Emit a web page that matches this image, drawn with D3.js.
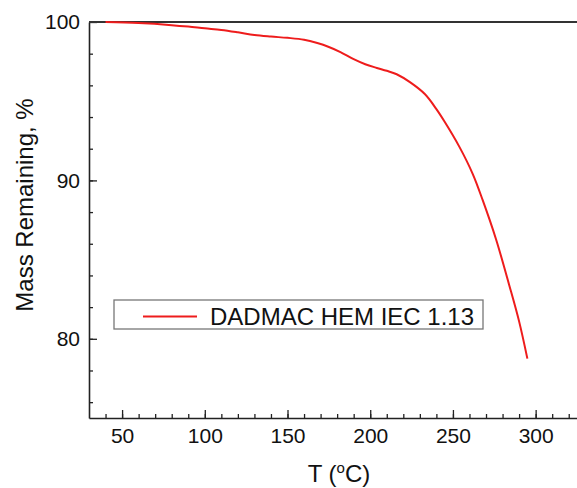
<!DOCTYPE html>
<meta charset="utf-8">
<body style="margin:0;background:#fff">
<script src="https://d3js.org/d3.v7.min.js"></script>
<script>
// temperature (C) and mass remaining (%)
var temps = [40, 60, 80, 90, 100, 110, 120, 130, 140, 150, 160, 168, 175, 182, 190,
             197, 204, 210, 216, 224, 233, 240, 245, 254, 262, 268, 276, 284, 290, 295];
var mass = [100.0, 99.93, 99.8, 99.71, 99.6, 99.5, 99.35, 99.18, 99.08, 99.0, 98.88, 98.67, 98.42, 98.1, 97.65,
            97.33, 97.1, 96.92, 96.7, 96.2, 95.45, 94.5, 93.7, 92.1, 90.4, 88.75, 86.3, 83.4, 81.1, 78.75];
var seriesName = "DADMAC HEM IEC 1.13";
var xTicks = [50, 100, 150, 200, 250, 300];
var yTicks = [80, 90, 100];

var width = 577,
    height = 488,
    plotLeft = 89, plotTop = 22, plotBottom = 418;

var font = "'Liberation Sans', Arial, sans-serif";

var svg = d3.select("body").append("svg")
    .attr("width", width)
    .attr("height", height)
    .style("font-family", font);

var x = d3.scaleLinear().domain([30, 325]).range([plotLeft, width]);
var y = d3.scaleLinear().domain([75, 100]).range([plotBottom, plotTop]);

// minor ticks first
svg.append("g")
    .attr("transform", "translate(0," + plotBottom + ")")
    .call(d3.axisBottom(x).tickValues(d3.range(40, 330, 10)).tickSize(-4).tickFormat(""))
    .call(g => g.select(".domain").remove())
    .call(g => g.selectAll("line").attr("stroke", "#222").attr("stroke-width", 1.3));

svg.append("g")
    .attr("transform", "translate(" + plotLeft + ",0)")
    .call(d3.axisLeft(y).tickValues(d3.range(76, 100, 2)).tickSize(-4).tickFormat(""))
    .call(g => g.select(".domain").remove())
    .call(g => g.selectAll("line").attr("stroke", "#222").attr("stroke-width", 1.3));

// major ticks + labels
var xAxis = svg.append("g")
    .attr("transform", "translate(0," + plotBottom + ")")
    .call(d3.axisBottom(x).tickValues(xTicks).tickSize(-8).tickSizeOuter(0).tickPadding(10));

var yAxis = svg.append("g")
    .attr("transform", "translate(" + plotLeft + ",0)")
    .call(d3.axisLeft(y).tickValues(yTicks).tickSize(-8).tickSizeOuter(0).tickPadding(9));

[xAxis, yAxis].forEach(function(a) {
  a.select(".domain").attr("stroke", "#222").attr("stroke-width", 1.6);
  a.selectAll("line").attr("stroke", "#222").attr("stroke-width", 1.3);
  a.selectAll("text").attr("font-family", font).attr("font-size", 21).attr("fill", "#111");
});

// top frame line
svg.append("line")
    .attr("x1", plotLeft).attr("x2", width)
    .attr("y1", y(100)).attr("y2", y(100))
    .attr("stroke", "#333")
    .attr("stroke-width", 2);

// curve
var data = temps.map(function(t, i) { return [t, mass[i]]; });
var line = d3.line()
    .x(function(d) { return x(d[0]); })
    .y(function(d) { return y(d[1]); })
    .curve(d3.curveCatmullRom.alpha(0.5));

svg.append("path")
    .datum(data)
    .attr("fill", "none")
    .attr("stroke", "#ee1c1c")
    .attr("stroke-width", 2)
    .attr("d", line);

// legend
var legend = svg.append("g");
legend.append("rect")
    .attr("x", 114).attr("y", 300)
    .attr("width", 369).attr("height", 29)
    .attr("fill", "#fff")
    .attr("stroke", "#777")
    .attr("stroke-width", 1.3);
legend.append("line")
    .attr("x1", 143).attr("x2", 197)
    .attr("y1", 316.5).attr("y2", 316.5)
    .attr("stroke", "#ee1c1c")
    .attr("stroke-width", 2);
legend.append("text")
    .attr("x", 210).attr("y", 325)
    .attr("font-size", 24)
    .attr("fill", "#111")
    .text(seriesName);

// axis titles
var xt = svg.append("text")
    .attr("x", 339).attr("y", 482)
    .attr("text-anchor", "middle")
    .attr("font-size", 24)
    .attr("fill", "#111");
xt.append("tspan").text("T (");
xt.append("tspan").attr("font-size", 15).attr("dy", -9).text("o");
xt.append("tspan").attr("dy", 9).text("C)");

svg.append("text")
    .attr("transform", "translate(33,205) rotate(-90)")
    .attr("text-anchor", "middle")
    .attr("font-size", 24)
    .attr("fill", "#111")
    .text("Mass Remaining, %");
</script>
</body>
